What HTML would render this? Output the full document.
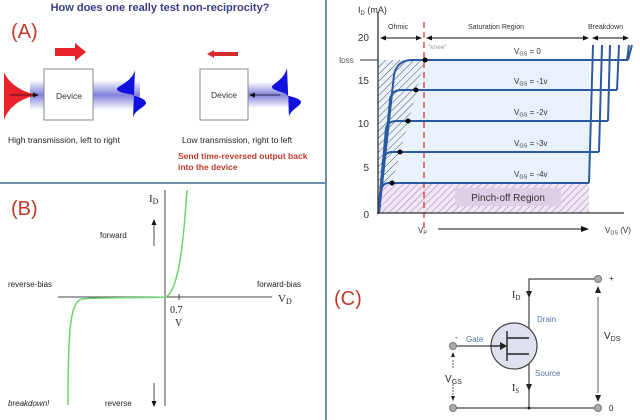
<!DOCTYPE html>
<html><head><meta charset="utf-8"><style>
html,body{margin:0;padding:0;background:#fff;}
svg{display:block;font-family:"Liberation Sans",Arial,sans-serif;}
</style></head><body>
<svg width="640" height="420" viewBox="0 0 640 420" xmlns="http://www.w3.org/2000/svg">
<defs>
<linearGradient id="beam" x1="0" y1="0" x2="0" y2="1">
<stop offset="0" stop-color="#6b6bd6" stop-opacity="0"/>
<stop offset="0.5" stop-color="#6b6bd6" stop-opacity="0.85"/>
<stop offset="1" stop-color="#6b6bd6" stop-opacity="0"/>
</linearGradient>
<linearGradient id="beam2" x1="0" y1="0" x2="1" y2="0">
<stop offset="0" stop-color="#fff" stop-opacity="0.9"/>
<stop offset="1" stop-color="#fff" stop-opacity="0"/>
</linearGradient>
<pattern id="hatch" width="5" height="5" patternUnits="userSpaceOnUse" patternTransform="rotate(45)">
<line x1="0" y1="0" x2="0" y2="5" stroke="#555" stroke-width="1"/>
</pattern>
<pattern id="hatchp" width="5" height="5" patternUnits="userSpaceOnUse" patternTransform="rotate(45)">
<rect width="5" height="5" fill="#f1e6f4"/>
<line x1="0" y1="0" x2="0" y2="5" stroke="#a07ab0" stroke-width="1"/>
</pattern>
<marker id="ah" markerWidth="8" markerHeight="8" refX="7" refY="4" orient="auto" markerUnits="userSpaceOnUse"><path d="M0,1 L8,4 L0,7 z" fill="#111"/></marker>
<marker id="ahs" markerWidth="6" markerHeight="6" refX="5" refY="3" orient="auto" markerUnits="userSpaceOnUse"><path d="M0,0.5 L6,3 L0,5.5 z" fill="#111"/></marker>
</defs>

<!-- dividers -->
<line x1="326" y1="0" x2="326" y2="420" stroke="#6f8fb0" stroke-width="2"/>
<line x1="0" y1="183" x2="326" y2="183" stroke="#6f8fb0" stroke-width="2"/>

<!-- Panel A -->
<text x="160" y="11" font-size="11" font-weight="bold" fill="#3b3b86" text-anchor="middle">How does one really test non-reciprocity?</text>
<text x="11" y="38" font-size="20" fill="#c0392b">(A)</text>
<path d="M55,48 L75,48 L75,43 L86,52 L75,61 L75,56 L55,56 z" fill="#e8242a"/>
<path d="M238,52 L214,52 L214,50 L207,54 L214,58 L214,56 L238,56 z" fill="#d42a2a"/>
<rect x="30" y="80" width="110" height="30" fill="url(#beam)"/>
<rect x="248" y="82" width="40" height="26" fill="url(#beam)"/>
<path d="M4,72 C8,82 20,92 38,95 C20,98 8,108 4,120 z" fill="#e8242a"/>
<line x1="10" y1="95" x2="38" y2="95" stroke="#111" stroke-width="0.8" marker-end="url(#ahs)"/>
<rect x="44" y="69" width="49" height="51" fill="#fff" stroke="#888" stroke-width="1"/>
<text x="69" y="99" font-size="8.5" fill="#333" text-anchor="middle">Device</text>
<path d="M135,70 C132,82 117,86 117,89 C117,93 132,94 133,95 L133,95 C133,96 146,98 146,103 C146,107 134,110 133,118 z" fill="#1010e0"/>
<rect x="200" y="69" width="48" height="51" fill="#fff" stroke="#888" stroke-width="1"/>
<text x="224" y="98" font-size="8.5" fill="#333" text-anchor="middle">Device</text>
<line x1="280" y1="95" x2="250" y2="95" stroke="#111" stroke-width="0.8" marker-end="url(#ahs)"/>
<path d="M287,68 C284,80 272,84 272,87 C272,91 286,92 287,95 C287,96 301,98 301,102 C301,106 290,110 289,117 z" fill="#1010e0"/>
<text x="8" y="143" font-size="8.5" fill="#222">High transmission, left to right</text>
<text x="182" y="143" font-size="8.5" fill="#222">Low transmission, right to left</text>
<text x="178" y="159" font-size="8.5" font-weight="bold" fill="#c0392b">Send time-reversed output back</text>
<text x="178" y="170" font-size="8.5" font-weight="bold" fill="#c0392b">into the device</text>

<!-- Panel B -->
<text x="11" y="215" font-size="20" fill="#c0392b">(B)</text>
<line x1="165" y1="190" x2="165" y2="406" stroke="#444" stroke-width="1"/>
<line x1="58" y1="297" x2="272" y2="297" stroke="#444" stroke-width="1"/>
<text x="149" y="202" font-size="11" font-family="Liberation Serif,serif" fill="#222">I<tspan font-size="8" dy="2">D</tspan></text>
<text x="100" y="238" font-size="8" fill="#222">forward</text>
<line x1="154" y1="246" x2="154" y2="220" stroke="#222" stroke-width="0.8" marker-end="url(#ahs)"/>
<text x="8" y="287" font-size="8" fill="#222">reverse-bias</text>
<text x="257" y="287" font-size="8" fill="#222">forward-bias</text>
<text x="278" y="302" font-size="11" font-family="Liberation Serif,serif" fill="#222">V<tspan font-size="8" dy="2">D</tspan></text>
<line x1="179" y1="294" x2="179" y2="300" stroke="#444"/>
<text x="170" y="313" font-size="10" font-family="Liberation Serif,serif" fill="#222">0.7</text>
<text x="175" y="326" font-size="10" font-family="Liberation Serif,serif" fill="#222">V</text>
<text x="8" y="406" font-size="8" font-style="italic" fill="#222">breakdown!</text>
<text x="105" y="406" font-size="8" fill="#222">reverse</text>
<line x1="154" y1="383" x2="154" y2="406" stroke="#222" stroke-width="0.8" marker-end="url(#ahs)"/>
<path d="M187,190 C183,250 178,290 166,297 C150,298 100,297 82,299 C70,302 68,330 68,405" fill="none" stroke="#6ed36e" stroke-width="1.5"/>

<!-- I-V graph -->
<rect x="378" y="60" width="211" height="123" fill="#e9f1fb"/>
<path d="M378,60 L425,60 L392,183 L378,183 z" fill="url(#hatch)"/>
<rect x="378" y="183" width="211" height="30" fill="url(#hatchp)"/>
<rect x="455" y="188" width="106" height="18" fill="#ddd0e6"/>
<text x="508" y="201" font-size="10" fill="#333" text-anchor="middle">Pinch-off Region</text>
<line x1="424" y1="22" x2="424" y2="232" stroke="#d23a3a" stroke-width="1.3" stroke-dasharray="6,4"/>
<g fill="none" stroke="#2a5aa0" stroke-width="2">
<path d="M379,213 L394,75 Q397,60 412,60 L628,60"/>
<path d="M379,213 L390,100 Q391,90 402,90 L617,90"/>
<path d="M379,208 L386,128 Q388,121 397,121 L608,121"/>
<path d="M379,206 L383,160 Q385,152 392,152 L599,152"/>
<path d="M379,200 L381,190 Q383,183 388,183 L589,183"/>
<path d="M589,183 L593,45"/>
<path d="M599,152 L602,45"/>
<path d="M608,121 L610,45"/>
<path d="M617,90 L619,45"/>
<path d="M627,60 L629,45"/>
<path d="M628,60 L632,45"/>
</g>
<g fill="#000"><circle cx="425" cy="60" r="2.5"/><circle cx="416" cy="90" r="2.5"/><circle cx="408" cy="121" r="2.5"/><circle cx="400" cy="152" r="2.5"/><circle cx="392" cy="183" r="2.5"/></g>
<line x1="378" y1="12" x2="378" y2="214" stroke="#333" stroke-width="1.3"/>
<line x1="377" y1="213" x2="624" y2="213" stroke="#333" stroke-width="1.3"/>
<line x1="360" y1="60" x2="378" y2="60" stroke="#333" stroke-width="1"/>
<g font-size="10" fill="#333" text-anchor="end">
<text x="369" y="41">20</text><text x="369" y="84">15</text><text x="369" y="127">10</text><text x="369" y="171">5</text><text x="369" y="218">0</text>
</g>
<text x="358" y="13" font-size="9" fill="#333">I<tspan font-size="6" dy="2">D</tspan><tspan dy="-2"> (mA)</tspan></text>
<text x="339" y="63" font-size="8" fill="#333">I<tspan font-size="6">DSS</tspan></text>
<text x="388" y="29" font-size="7" fill="#333">Ohmic</text>
<text x="468" y="29" font-size="7" fill="#333">Saturation Region</text>
<text x="588" y="29" font-size="7" fill="#333">Breakdown</text>
<g stroke="#111" stroke-width="0.9">
<line x1="400" y1="38" x2="381" y2="38" marker-end="url(#ahs)"/><line x1="400" y1="38" x2="421" y2="38" marker-end="url(#ahs)"/>
<line x1="508" y1="38" x2="427" y2="38" marker-end="url(#ahs)"/><line x1="508" y1="38" x2="588" y2="38" marker-end="url(#ahs)"/>
<line x1="610" y1="38" x2="593" y2="38" marker-end="url(#ahs)"/><line x1="610" y1="38" x2="628" y2="38" marker-end="url(#ahs)"/>
<line x1="438" y1="229" x2="588" y2="229" marker-end="url(#ah)"/>
</g>
<text x="428" y="49" font-size="6.5" fill="#999">"knee"</text>
<g font-size="8" fill="#333">
<text x="514" y="54">V<tspan font-size="5.5" dy="1.5">GS</tspan><tspan dy="-1.5"> = 0</tspan></text>
<text x="514" y="84">V<tspan font-size="5.5" dy="1.5">GS</tspan><tspan dy="-1.5"> = -1v</tspan></text>
<text x="514" y="115">V<tspan font-size="5.5" dy="1.5">GS</tspan><tspan dy="-1.5"> = -2v</tspan></text>
<text x="514" y="146">V<tspan font-size="5.5" dy="1.5">GS</tspan><tspan dy="-1.5"> = -3v</tspan></text>
<text x="514" y="177">V<tspan font-size="5.5" dy="1.5">GS</tspan><tspan dy="-1.5"> = -4v</tspan></text>
<text x="418" y="233">V<tspan font-size="5.5" dy="1.5">P</tspan></text>
<text x="605" y="233">V<tspan font-size="5.5" dy="1.5">DS</tspan><tspan dy="-1.5"> (V)</tspan></text>
</g>

<!-- Circuit (C) -->
<text x="334" y="305" font-size="20" fill="#c0392b">(C)</text>
<g stroke="#444" stroke-width="1.2" fill="none">
<path d="M598,279 L529,279 L529,338 L509,338"/>
<path d="M509,354 L529,354 L529,408"/>
<line x1="453" y1="408" x2="598" y2="408"/>
<line x1="453" y1="346" x2="497" y2="346"/>
</g>
<circle cx="514" cy="346" r="23" fill="#dfe2ee" stroke="#444" stroke-width="1.2"/>
<g stroke="#222" stroke-width="1.4"><line x1="507" y1="331" x2="507" y2="361"/><line x1="507" y1="338" x2="529" y2="338"/><line x1="507" y1="354" x2="529" y2="354"/><line x1="490" y1="346" x2="500" y2="346"/></g>
<path d="M500,342 L507,346 L500,350 z" fill="#222"/>
<path d="M526,291 L529,298 L532,291 z" fill="#222"/>
<path d="M526,384 L529,391 L532,384 z" fill="#222"/>
<g fill="#aaa" stroke="#777"><circle cx="598" cy="279" r="3.5"/><circle cx="598" cy="408" r="3.5"/><circle cx="453" cy="346" r="3.5"/><circle cx="453" cy="408" r="3.5"/></g>
<circle cx="529" cy="408" r="1.5" fill="#222"/>
<g stroke="#333" stroke-width="0.8">
<line x1="598" y1="297" x2="598" y2="393"/>
<line x1="453" y1="360" x2="453" y2="368" stroke-dasharray="2,1"/><line x1="453" y1="384" x2="453" y2="396" stroke-dasharray="2,1"/>
</g>
<path d="M595,293 L598,286 L601,293 z M595,395 L598,402 L601,395 z M451,357 L453,352 L455,357 z M451,396 L453,401 L455,396 z" fill="#222"/>
<text x="512" y="298" font-size="10" font-family="Liberation Serif,serif" fill="#222">I<tspan font-size="7" dy="2">D</tspan></text>
<text x="512" y="391" font-size="10" font-family="Liberation Serif,serif" fill="#222">I<tspan font-size="7" dy="2">S</tspan></text>
<text x="537" y="322" font-size="8" fill="#5a74a8">Drain</text>
<text x="535" y="376" font-size="8" fill="#5a74a8">Source</text>
<text x="466" y="342" font-size="8" fill="#5a74a8">Gate</text>
<text x="455" y="340" font-size="8" fill="#222">-</text>
<text x="609" y="281" font-size="8" fill="#222">+</text>
<text x="609" y="411" font-size="8" fill="#222">0</text>
<text x="604" y="339" font-size="10" fill="#222">V<tspan font-size="7" dy="2">DS</tspan></text>
<text x="445" y="382" font-size="10" fill="#222">V<tspan font-size="7" dy="2">GS</tspan></text>
</svg>
</body></html>
